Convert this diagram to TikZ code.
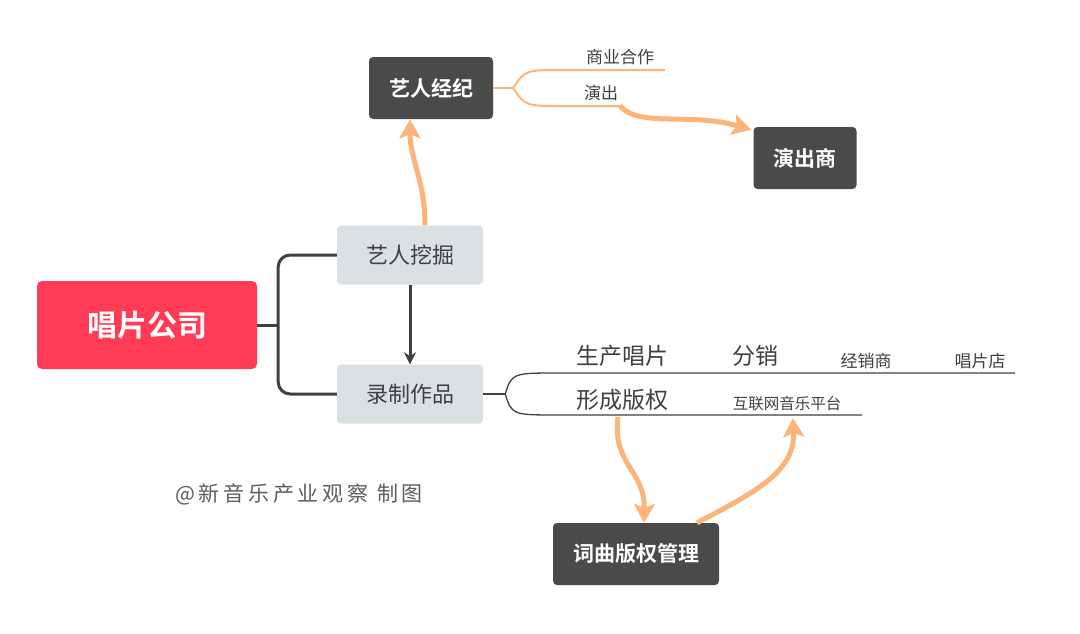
\documentclass[tikz,border=0pt]{standalone}
\usepackage{fontspec}
\setmainfont{Noto Sans CJK SC}[BoldFont={Noto Sans CJK SC Bold}]
\usetikzlibrary{positioning}
\usetikzlibrary{arrows.meta}
\definecolor{labelred}{HTML}{FF3B55}
\definecolor{boxdark}{HTML}{4A4B48}
\definecolor{boxlight}{HTML}{D9E1E3}
\definecolor{peach}{HTML}{FDB47B}
\definecolor{ink}{HTML}{404040}
\tikzset{fs/.style={font=\fontsize{#1}{#1}\selectfont}}
\tikzset{fsb/.style={font=\fontsize{#1}{#1}\selectfont\bfseries}}
\tikzset{dark/.style={draw=none,fill=boxdark,rounded corners=4pt,text=white,fsb=21,
  inner xsep=20pt,minimum height=62pt}}
\tikzset{light/.style={fill=boxlight,rounded corners=4pt,text=ink,fs=22,minimum width=146pt,minimum height=59pt}}
\tikzset{trunk/.style={draw=ink,line width=3pt}}
\tikzset{twig/.style={draw=ink,line width=1.3pt}}
\tikzset{peachline/.style={draw=peach,line width=2pt}}
\tikzset{peacharrow/.style={draw=peach,line width=5pt,-{Stealth[length=19pt,width=21pt,inset=4pt]}}}
\tikzset{lbl/.style={text=ink,inner sep=0pt}}

\begin{document}
\begin{tikzpicture}[x=1pt,y=-1pt]
\useasboundingbox (0,0) rectangle (1080,633);
\node[fill=labelred,rounded corners=5pt,text=white,fsb=30,minimum width=220pt,minimum height=88pt] (label) at (147,325) {唱片公司};
\node[light] (dig) at (410,255) {艺人挖掘};
\node[light] (rec) at (410,394) {录制作品};
\node[dark] (agent) at (431,88) {艺人经纪};
\node[dark] (show) at (805,158) {演出商};
\node[dark] (copy) at (636,554) {词曲版权管理};

% trunk
\draw[trunk] (label.east) -- ++(21,0) coordinate (fork);
\draw[trunk,rounded corners=12pt] (dig.west) -| (fork) |- (rec.west);
\draw[trunk,-{Stealth[length=12pt,width=12pt]}] (dig) -- (rec);

% artist branch
\draw[peachline] (agent.east) -- ++(20,0) coordinate (af);
\coordinate (biz) at (665,70);
\coordinate (gig) at (620,106);
\draw[peachline] (af) .. controls (525,70) .. (565,70) -- (biz);
\draw[peachline] (af) .. controls (525,106) .. (565,106) -- (gig);
\node[lbl,fs=17] (bizt) at (620,57) {商业合作};
\node[lbl,fs=17] (gigt) at (601,93) {演出};
\draw[peacharrow] ([xshift=15pt]dig.north) .. controls (425,180) and (410,160) .. ([xshift=-21pt]agent.south);
\draw[peacharrow] (gig) .. controls (640,128) and (690,112) .. ([shift={(-2pt,-3pt)}]show.north west);

% record branch
\draw[twig] (rec.east) -- ++(22,0) coordinate (rf);
\coordinate (sell) at (1015,373);
\coordinate (net) at (862,415);
\draw[twig] (rf) .. controls (512,373) .. (560,373) -- (sell);
\draw[twig] (rf) .. controls (512,415) .. (560,415) -- (net);
\node[lbl,fs=23] (make) at (622,356) {生产唱片};
\node[lbl,fs=23] (dist) at (755,356) {分销};
\node[lbl,fs=17] (deal) at (866,361) {经销商};
\node[lbl,fs=17] (shop) at (980,361) {唱片店};
\node[lbl,fs=23] (right) at (622,400) {形成版权};
\node[lbl,fs=15.5] (web) at (787,404) {互联网音乐平台};
\coordinate (down) at (618,417);
\draw[peacharrow] (down) .. controls (612,465) and (645,470) .. ([xshift=8pt]copy.north);
\draw[peacharrow] ([xshift=61pt]copy.north) .. controls (760,490) and (795,470) .. (793,418);

\node[text=ink!85,fs=21,inner sep=0pt] (mark) at (299,494) {\addfontfeature{LetterSpace=18}@新音乐产业观察 制图};
\end{tikzpicture}
\end{document}
